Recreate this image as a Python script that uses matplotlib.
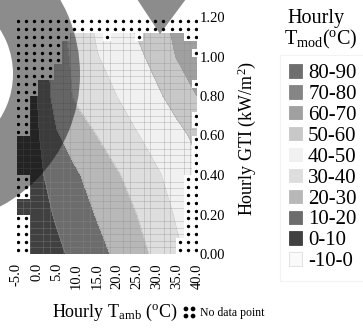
import numpy as np
import matplotlib
matplotlib.use("Agg")
import matplotlib.pyplot as plt
from matplotlib.colors import ListedColormap, BoundaryNorm
from matplotlib.patches import Patch, Wedge, Polygon
from matplotlib.lines import Line2D
from matplotlib.path import Path
from matplotlib.transforms import Affine2D

plt.rcParams['font.family'] = ['Liberation Serif', 'DejaVu Serif']
plt.rcParams['mathtext.fontset'] = 'custom'
plt.rcParams['mathtext.rm'] = 'Liberation Serif'
plt.rcParams['mathtext.it'] = 'Liberation Serif:italic'
plt.rcParams['mathtext.bf'] = 'Liberation Serif:bold'

# Hourly module temperature on an ambient-temperature / irradiance grid
t_amb = [-5, 0, 5, 10, 15, 20, 25, 30, 35, 40]
gti = [0.0, 0.2, 0.4, 0.6, 0.8, 1.0, 1.2]
t_mod = [
    [0.5, 4.0, 8.0, 12.5, 17.0, 21.5, 27.0, 32.0, 38.5, 43.0],
    [2.0, 6.0, 11.0, 15.5, 20.5, 25.0, 30.0, 35.5, 41.0, 46.0],
    [4.0, 8.0, 13.5, 19.0, 24.0, 29.0, 34.0, 39.0, 43.5, 48.0],
    [5.0, 8.5, 19.0, 25.0, 30.0, 35.0, 39.5, 43.5, 47.5, 52.0],
    [6.0, 9.5, 24.5, 31.5, 36.0, 40.0, 44.5, 48.5, 53.5, 60.0],
    [7.0, 12.0, 25.0, 33.0, 39.5, 44.0, 48.0, 53.0, 60.5, 64.0],
    [8.0, 14.0, 27.0, 35.0, 42.0, 48.0, 52.0, 57.0, 63.0, 66.0],
]

levels = [-10, 0, 10, 20, 30, 40, 50, 60, 70, 80, 90]
band_labels = ['-10-0', '0-10', '10-20', '20-30', '30-40',
               '40-50', '50-60', '60-70', '70-80', '80-90']
band_colors = ['#fafafa', '#404040', '#6c6c6c', '#b8b8b8', '#dedede',
               '#f1f1f1', '#c8c8c8', '#a0a0a0', '#858585', '#6e6e6e']

x_ticks = [-5.0, 0.0, 5.0, 10.0, 15.0, 20.0, 25.0, 30.0, 35.0, 40.0]
y_ticks = [0.0, 0.2, 0.4, 0.6, 0.8, 1.0, 1.2]

# Bins without measurements: (first row, last row, first col, last col)
nd_t = np.linspace(-4.7, 39.7, 23)
nd_g = np.linspace(1.18, 0.02, 30)
no_data_blocks = [
    (0, 1, 0, 22),
    (2, 2, 0, 6), (2, 2, 11, 11), (2, 2, 15, 15), (2, 2, 21, 22),
    (3, 5, 0, 5),
    (6, 7, 0, 4),
    (8, 9, 0, 2),
    (10, 14, 0, 1),
    (20, 22, 0, 1),
    (25, 29, 0, 1),
    (4, 4, 22, 22), (8, 8, 22, 22), (12, 13, 22, 22),
    (15, 29, 22, 22),
    (20, 29, 21, 21),
    (28, 29, 20, 20),
]

W, H = 363, 331
fig = plt.figure(figsize=(W / 100, H / 100), dpi=100)
ax = fig.add_axes([16.5 / W, 1 - 254 / H, 180.5 / W, 237 / H])

cmap = ListedColormap(band_colors)
norm = BoundaryNorm(levels, cmap.N)
ax.contourf(t_amb, gti, t_mod, levels=levels, cmap=cmap, norm=norm, zorder=1)
ax.contour(t_amb, gti, t_mod, levels=levels, colors='#9a9a9a',
           linewidths=0.4, alpha=0.6, zorder=1.5)

# fine data grid
ax.set_xticks(np.linspace(-5, 40, 28), minor=True)
ax.set_yticks(np.linspace(0, 1.2, 37), minor=True)
ax.grid(which='minor', color='#8c8c8c', linewidth=0.5, alpha=0.45)
ax.grid(which='major', visible=False)
ax.set_axisbelow(False)

# no-data bins: white cells with a dot
mask = np.zeros((len(nd_g), len(nd_t)), bool)
for r0, r1, c0, c1 in no_data_blocks:
    mask[r0:r1 + 1, c0:c1 + 1] = True
dx = nd_t[1] - nd_t[0]
dy = nd_g[1] - nd_g[0]
xe = np.append(nd_t - dx / 2, nd_t[-1] + dx / 2)
ye = np.append(nd_g - dy / 2, nd_g[-1] + dy / 2)
ax.pcolormesh(xe, ye, np.ma.masked_where(~mask, mask.astype(float)),
              cmap=ListedColormap(['white']), shading='flat',
              antialiased=False, zorder=3)
rows, cols = np.nonzero(mask)
ax.scatter(nd_t[cols], nd_g[rows], s=6, c='black', linewidths=0, zorder=4)

ax.set_xlim(-5, 40)
ax.set_ylim(0, 1.2)
for s in ax.spines.values():
    s.set_visible(False)
ax.set_xticks(x_ticks)
ax.set_xticklabels([f'{v:.1f}' for v in x_ticks], rotation=90)
ax.set_yticks(y_ticks)
ax.set_yticklabels([f'{v:.2f}' for v in y_ticks])
ax.yaxis.tick_right()
ax.tick_params(axis='both', which='both', length=0, labelsize=10.5)
ax.tick_params(axis='x', pad=6.5)
ax.tick_params(axis='y', pad=2)

fig.text(247 / W, 1 - 138 / H, r'Hourly GTI (kW/m$^{2}$)', rotation=90,
         ha='center', va='center', fontsize=13)
fig.text(115 / W, 1 - 312 / H, r'Hourly T$_{\mathrm{amb}}$ ($^{\mathrm{o}}$C)',
         ha='center', va='center', fontsize=13)

# temperature-band legend
fig.text(316 / W, 1 - 18 / H, 'Hourly', ha='center', va='center', fontsize=14.5)
fig.text(321 / W, 1 - 39 / H, r'T$_{\mathrm{mod}}$($^{\mathrm{o}}$C)',
         ha='center', va='center', fontsize=14.5)
handles = [Patch(facecolor=c, edgecolor=('#dddddd' if i == 0 else c), linewidth=0.6)
           for i, c in enumerate(band_colors)][::-1]
leg = fig.legend(handles, band_labels[::-1], loc='upper left',
                 bbox_to_anchor=(280 / W, 1 - 55 / H), frameon=True,
                 fancybox=False, edgecolor='#efefef', fontsize=15,
                 handlelength=0.6, handleheight=0.6, handletextpad=0.3,
                 labelspacing=0.09, borderpad=0.45, borderaxespad=0)
leg.get_frame().set_linewidth(0.8)

# no-data key: four dots
circ = Path.unit_circle()
quad = Path.make_compound_path(*[
    circ.transformed(Affine2D().scale(0.28).translate(ddx, ddy))
    for ddx in (-0.6, 0.6) for ddy in (-0.6, 0.6)])
nd_key = Line2D([], [], linestyle='none', marker=quad, markersize=7.5,
                color='black')
fig.legend([nd_key], ['No data point'], loc='center left',
           bbox_to_anchor=(183 / W, 1 - 313 / H), frameon=False,
           fontsize=8.5, handlelength=1.0, handletextpad=0.4,
           borderpad=0, borderaxespad=0)

# translucent ring and wedge drawn over the figure
ov = fig.add_axes([0, 0, 1, 1], zorder=10)
ov.set_xlim(0, W)
ov.set_ylim(H, 0)
ov.axis('off')
ov.add_patch(Wedge((-70, 74), 150, 0, 360, width=67, facecolor='black',
                   alpha=0.45, linewidth=0))
ov.add_patch(Polygon([(137, -1), (186, -1), (160, 34)], closed=True,
                     facecolor='black', alpha=0.45, linewidth=0))

fig.savefig('out.png', dpi=100)
